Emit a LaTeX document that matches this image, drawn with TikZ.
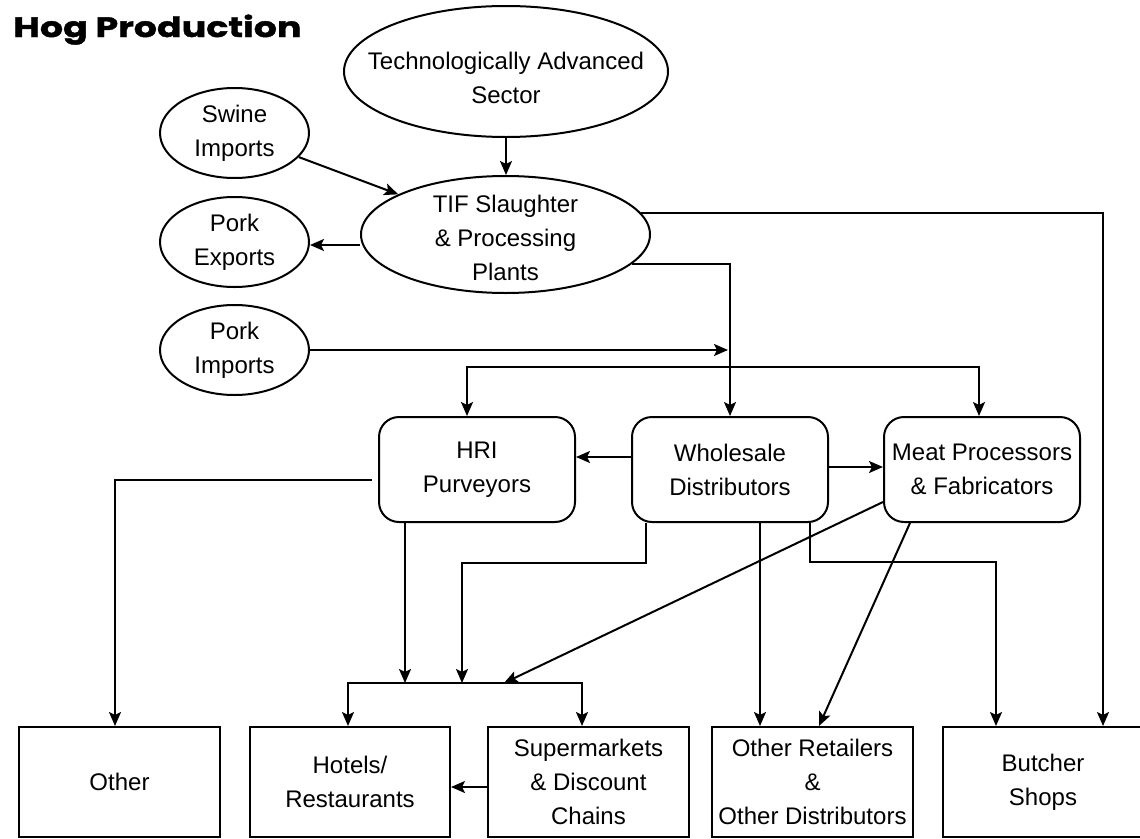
\documentclass[tikz,border=0pt]{standalone}
\usepackage{fontspec}
\setmainfont{Liberation Sans}
\newfontfamily\titlefont{Poppins}[FakeStretch=1.3, BoldFeatures={FakeBold=1.5}]
\usetikzlibrary{shapes.geometric,arrows.meta}

\tikzset{
  arr/.style = {-{Stealth[length=14pt,width=12pt,inset=3pt]}},
  dbl/.style = {{Stealth[length=14pt,width=12pt,inset=3pt]}-{Stealth[length=14pt,width=12pt,inset=3pt]}},
  oval/.style = {draw, ellipse, inner sep=0pt},
  rbox/.style = {draw, rounded corners=20pt, minimum width=196pt, minimum height=105pt, align=center, inner sep=0pt},
  sbox/.style = {draw, minimum width=201pt, minimum height=110pt, align=center, inner sep=0pt}
}

\begin{document}
\begin{tikzpicture}[x=1pt, y=-1pt, line width=2pt, font=\fontsize{24}{34}\selectfont]
        \useasboundingbox (0, 0) rectangle (1140, 838);

        \node[anchor=base west] (title) at (9, 37) {\titlefont\fontsize{28}{30}\selectfont\bfseries Hog Production};

        % ovals
        \node[oval, minimum width=324pt, minimum height=131pt,
          label={[align=center, yshift=-6pt]center:Technologically Advanced\\Sector}] (tech) at (506, 71.5) {};
        \node[oval, minimum width=289pt, minimum height=117pt,
          label={[align=center, yshift=-3pt]center:TIF Slaughter\\\& Processing\\Plants}] (tif) at (505.5, 234.5) {};
        \node[oval, minimum width=149pt, minimum height=90pt,
          label={[align=center]center:Swine\\Imports}] (swine) at (234.5, 133) {};
        \node[oval, minimum width=149pt, minimum height=90pt,
          label={[align=center]center:Pork\\Exports}] (pexp) at (234.5, 242) {};
        \node[oval, minimum width=149pt, minimum height=90pt,
          label={[align=center]center:Pork\\Imports}] (pimp) at (234.5, 350) {};

        % middle boxes
        \node[rbox] (hri) at (477, 469.5) {HRI\\Purveyors};
        \node[rbox] (whole) at (730, 469.5) {Wholesale\\Distributors};
        \node[rbox] (meat) at (982, 469.5) {Meat Processors\\\& Fabricators};

        % bottom boxes
        \node[sbox] (other) at (119.5, 782) {Other};
        \node[sbox, minimum width=200pt] (hotels) at (350, 782) {Hotels/\\Restaurants};
        \node[sbox] (super) at (588.5, 782) {Supermarkets\\\& Discount\\Chains};
        \node[sbox] (oret) at (812.5, 782) {Other Retailers\\\&\\Other Distributors};
        \node[sbox, minimum width=200pt] (butcher) at (1043, 782) {Butcher\\Shops};

        \coordinate (hub) at (462, 683);

        \draw[arr] (tech.south) -- (tech.south |- tif.north);
        \draw[arr] (swine) -- (tif);
        \draw[arr] ([yshift=-10.5]tif.west) -- ([yshift=-10.5]tif.west -| pexp.east);
        \draw[arr] (tif.9.6) -| ([xshift=60]butcher.north);
        \draw[arr] (tif.-13.3) -| (whole.north);
        \draw[arr, shorten >=2pt] (pimp.east) -- (pimp.east -| whole.north);
        \draw[dbl] ([xshift=-10]hri.north) -- ++(0, -49) -| ([xshift=-3]meat.north);

        \draw[arr] ([yshift=12.5]whole.west) -- ([yshift=12.5]hri.east);
        \draw[arr] ([yshift=2.5]whole.east) -- ([yshift=2.5]meat.west);
        \draw[arr] ([xshift=-6, yshift=-10.5]hri.west) -| ([xshift=-4.5]other.north);

        \draw[arr] ([xshift=-72]hri.south) -- ([xshift=-72]hri.south |- hub);
        \draw[arr] ([xshift=-84]whole.south) -- ++(0, 40) -| (hub);
        \draw[arr] ([yshift=-32.5]meat.west) -- ([xshift=42]hub);
        \draw[dbl] ([xshift=-2]hotels.north) |- ([xshift=-50]hub) -| ([xshift=-6.5]super.north);
        \draw[arr] ([yshift=-5]super.west) -- ([yshift=-5]hotels.east);

        \draw[arr] ([xshift=30]whole.south) -- ([xshift=30]whole.south |- oret.north);
        \draw[arr] ([xshift=-72]meat.south) -- ([xshift=6.5]oret.north);
        \draw[arr] ([xshift=80]whole.south) -- ++(0, 39) -| ([xshift=-47]butcher.north);
      \end{tikzpicture}
\end{document}
